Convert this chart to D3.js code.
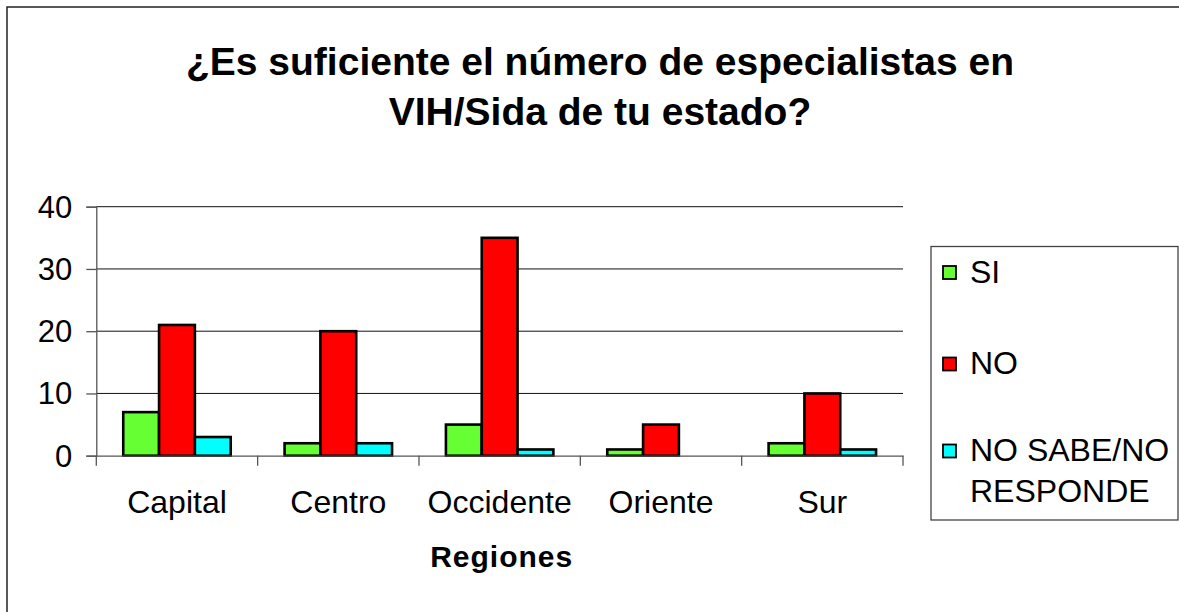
<!DOCTYPE html>
<html><head><meta charset="utf-8">
<script src="https://cdn.jsdelivr.net/npm/d3@7/dist/d3.min.js"></script>
<style>body{margin:0;background:#fff}svg{display:block}text{font-family:Arial,"Liberation Sans",sans-serif}</style>
</head><body><svg id="c" width="1179" height="612"></svg>
<script>
const categories = ["Capital","Centro","Occidente","Oriente","Sur"];
const seriesNames = ["SI","NO","NO SABE/NO RESPONDE"];
const siValues = [7,2,5,1,2];
const noValues = [21,20,35,5,10];
const nsnrValues = [3,2,1,0,1];
const yTicks = [0,10,20,30,40];
const colors = ["#66FF33","#FF0000","#00FFFF"];
const titleLines = ["¿Es suficiente el número de especialistas en","VIH/Sida de tu estado?"];
const xTitle = "Regiones";

const values = [siValues, noValues, nsnrValues];
const svg = d3.select("#c");
svg.append("rect").attr("x",7).attr("y",7).attr("width",1190).attr("height",620)
  .attr("fill","#fff").attr("stroke","#222").attr("stroke-width",1.5);

const L=96.3,R=903,T=206.7,B=455.7;
const x0 = d3.scaleBand().domain(categories).range([L,R]).padding(0);
const bw = x0.bandwidth();
const x1 = d3.scaleBand().domain(seriesNames).range([bw*0.167,bw*0.833]).padding(0);
const y = d3.scaleLinear().domain([0,40]).range([B,T]);

// gridlines
svg.append("g").selectAll("line").data(yTicks.filter(d=>d>0)).join("line")
  .attr("x1",L).attr("x2",R).attr("y1",d=>y(d)).attr("y2",d=>y(d))
  .attr("stroke","#111").attr("stroke-width",1);

// y axis
const ya = svg.append("g").attr("transform",`translate(${L},0)`)
  .call(d3.axisLeft(y).tickValues(yTicks).tickSize(10).tickPadding(14));
ya.select(".domain").attr("stroke","#555").attr("stroke-width",1.3);
ya.selectAll(".tick line").attr("stroke","#555").attr("stroke-width",1.3);
ya.selectAll("text").attr("font-size",31).attr("fill","#000").attr("dy","0.34em");

// bars
const g = svg.append("g");
categories.forEach((c,i)=>{
  seriesNames.forEach((s,j)=>{
    const v = values[j][i];
    if(v<=0) return;
    g.append("rect").attr("x",x0(c)+x1(s)).attr("width",x1.bandwidth())
      .attr("y",y(v)).attr("height",y(0)-y(v))
      .attr("fill",colors[j]).attr("stroke","#000").attr("stroke-width",2.6);
  });
});

// x axis
const xa = svg.append("g").attr("transform",`translate(0,${B})`)
  .call(d3.axisBottom(x0).tickSize(0).tickPadding(35));
xa.select(".domain").attr("stroke","#555").attr("stroke-width",1.3);
xa.selectAll("text").attr("font-size",32).attr("fill","#000");
// category separator ticks
const seps = categories.map(c=>x0(c)).concat([R]);
svg.append("g").selectAll("line").data(seps).join("line")
  .attr("x1",d=>d).attr("x2",d=>d).attr("y1",B).attr("y2",B+10)
  .attr("stroke","#555").attr("stroke-width",1.3);

// x title
svg.append("text").attr("x",(L+R)/2+2).attr("y",567).attr("text-anchor","middle")
  .attr("font-size",30).attr("font-weight","bold").attr("letter-spacing",1).text(xTitle);

// title
svg.append("g").selectAll("text").data(titleLines).join("text")
  .attr("x",600).attr("y",(d,i)=>75+i*50).attr("text-anchor","middle")
  .attr("font-size",39).attr("font-weight","bold").text(d=>d);

// legend
svg.append("rect").attr("x",931).attr("y",246.5).attr("width",247).attr("height",273.5)
  .attr("fill","#fff").attr("stroke","#444").attr("stroke-width",1.3);
const legY = [272.5,364,451];
seriesNames.forEach((s,j)=>{
  svg.append("rect").attr("x",943).attr("y",legY[j]-6.5).attr("width",13).attr("height",13)
    .attr("fill",colors[j]).attr("stroke","#000").attr("stroke-width",1.8);
});
const legLabels = [["SI"],["NO"],["NO SABE/NO","RESPONDE"]];
legLabels.forEach((lines,j)=>{
  lines.forEach((t,k)=>{
    svg.append("text").attr("x",970).attr("y",legY[j]+10+k*41).attr("font-size",32).text(t);
  });
});
</script></body></html>
